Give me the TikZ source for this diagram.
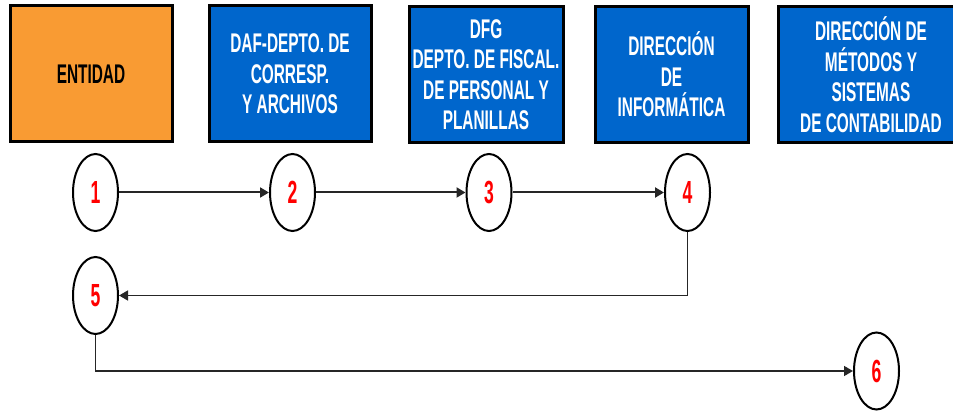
\documentclass[tikz,border=0pt]{standalone}
\usepackage{fontspec}
\newfontfamily\narrowfont[FakeStretch=0.57]{Liberation Sans}
\newfontfamily\digitfont[FakeStretch=0.55]{Liberation Sans}
\usetikzlibrary{arrows.meta,shapes.geometric}
\definecolor{boxorange}{HTML}{F99B33}
\definecolor{boxblue}{HTML}{0066CC}
\definecolor{numred}{HTML}{FF0000}
\begin{document}
\begin{tikzpicture}[x=1pt,y=-1pt,
  orgbox/.style={draw=black, line width=3pt, minimum width=#1, minimum height=136pt,
    inner sep=0pt, align=center, font=\narrowfont\bfseries\fontsize{27}{30.5}\selectfont},
  bluebox/.style={orgbox=#1, fill=boxblue, text=white},
  stepcircle/.style={ellipse, draw=black, line width=2pt, fill=white, minimum width=45pt,
    minimum height=77pt, inner sep=0pt, text=numred,
    font=\digitfont\bfseries\fontsize{32}{32}\selectfont},
  flow/.style={draw=black!85, line width=2pt, -{Triangle[length=9pt,width=10pt]}},
  flowthin/.style={draw=black!85, line width=1.6pt, -{Triangle[length=9pt,width=10pt]}}
]
\useasboundingbox (0,0) rectangle (953,414);
\clip (0,0) rectangle (953,414);

\node[orgbox=162pt, fill=boxorange, text=black] (b1) at (91,74) {ENTIDAD};
\node[bluebox=162pt] (b2) at (290,74) {DAF-DEPTO. DE\\CORRESP.\\Y ARCHIVOS};
\node[bluebox=154pt] (b3) at (486,74.5) {DFG\\DEPTO. DE FISCAL.\\DE PERSONAL Y\\PLANILLAS};
\node[bluebox=153pt] (b4) at (671.5,74.5) {DIRECCIÓN\\DE\\INFORMÁTICA};
\node[bluebox=186pt] (b5) at (871,74.5) {DIRECCIÓN DE\\MÉTODOS Y\\SISTEMAS\\DE CONTABILIDAD};

\node[stepcircle] (c1) at (95.5,192.5) {1};
\node[stepcircle] (c2) at (292.5,192.5) {2};
\node[stepcircle] (c3) at (489,192.5) {3};
\node[stepcircle] (c4) at (687.5,192.5) {4};
\node[stepcircle] (c5) at (95.5,295.5) {5};
\node[stepcircle] (c6) at (876.5,371) {6};

\draw[flow] (c1) -- (c2);
\draw[flow] (c2) -- (c3);
\draw[flow] (c3) -- (c4);
\draw[flowthin] (c4.south) |- (c5.east);
\draw[flowthin] (c5.south) |- (c6.west);
\end{tikzpicture}
\end{document}
